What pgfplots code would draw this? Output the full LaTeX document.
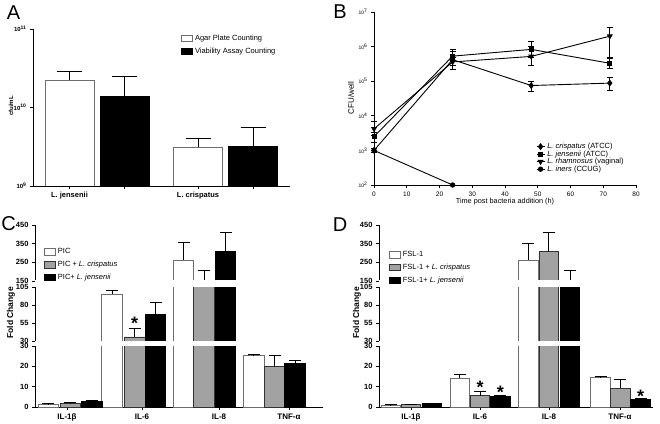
\documentclass[border=0pt]{standalone}
\usepackage{fontspec}
\setmainfont{Liberation Sans}
\usepackage{pgfplots}
\usepackage{pgfplotstable}
\pgfplotsset{compat=1.18}

\definecolor{barg}{RGB}{162,162,162}
\definecolor{edgew}{RGB}{110,110,110}
\definecolor{edgeg}{RGB}{50,50,50}

% bars start at ymin when 0 is out of range: mask their base edge at the break
\newcommand{\hidebase}{\fill[white] ([xshift=0.45pt,yshift=-1pt]rel axis cs:0,0) rectangle ([yshift=0.5pt]rel axis cs:1,0);}

\pgfplotsset{
  base/.style={scale only axis, anchor=south west, tick align=outside,
    axis line style={line width=0.8pt}, every tick/.style={black, line width=0.8pt},
    major tick length=3pt, /pgf/number format/assume math mode=true},
  wbar/.style={ybar, bar shift=0pt, fill=white, draw=edgew, line width=0.8pt},
  gbar/.style={ybar, bar shift=0pt, fill=barg, draw=edgeg, line width=0.8pt},
  kbar/.style={ybar, bar shift=0pt, fill=black, draw=black, line width=0.8pt},
  boxleg/.style={legend image code/.code={\draw[##1] (0pt,-3pt) rectangle (11pt,3.5pt);}},
  errs/.style={forget plot, draw=none, mark=none,
    error bars/y dir=plus, error bars/y explicit,
    error bars/error bar style={draw=black, line width=0.8pt},
    error bars/error mark options={rotate=90, draw=black, mark size=#1, line width=0.8pt}},
  cdC/.style={base, width=288pt, xmin=35, xmax=323,
    yticklabel style={font=\fontsize{7.5}{8}\selectfont\bfseries},
    xticklabel style={font=\fontsize{8}{9}\selectfont\bfseries}},
  cdD/.style={base, width=274pt, xmin=379, xmax=653,
    yticklabel style={font=\fontsize{7.5}{8}\selectfont\bfseries},
    xticklabel style={font=\fontsize{8}{9}\selectfont\bfseries}},
  seglo/.style={height=61pt, ymin=0, ymax=30, ytick={0,10,20,30}, axis lines*=left},
  segmid/.style={height=54pt, ymin=30, ymax=105, ytick={30,55,80,105},
    axis x line=none, axis y line*=left, xtick=\empty},
  seghi/.style={height=56pt, ymin=150, ymax=450, ytick={150,250,350,450},
    axis x line=none, axis y line*=left, xtick=\empty},
  cdleg/.style={legend style={at={(#1)}, anchor=north west, draw=none, fill=none,
    font=\fontsize{7.5}{8}\selectfont, row sep=2pt, inner sep=0pt}, legend cell align=left},
}

% panel C: bar centre (px) and fold change
\pgfplotstableread{
x y
48.3 1.5
112 95
183.5 262
253.8 25.4
}\Cw
\pgfplotstableread{
x y
70.3 1.9
134.7 35.6
204 155
274.8 19.8
}\Cg
\pgfplotstableread{
x y
91.7 2.6
155.5 67
225.5 307
295 21.6
}\Ck
% panel D
\pgfplotstableread{
x y
390.8 0.9
459.7 14.2
528.3 262
600.5 14.5
}\Dw
\pgfplotstableread{
x y
410.8 1.2
480 5.6
548.7 307
620.2 9.1
}\Dg
\pgfplotstableread{
x y
431.7 1.8
500.3 5.1
570 130
640.5 3.8
}\Dk

\begin{document}
\begin{tikzpicture}
\path[use as bounding box] (0pt,0pt) rectangle (660pt,423pt);

% ---------- A ----------
\begin{axis}[base, width=257pt, height=157pt, at={(33pt,237pt)},
  xmin=33, xmax=290, ymode=log, ymin=1e9, ymax=1e11, axis lines*=left,
  yminorticks=false,
  xtick={69.5,124.5,198,253}, xticklabels={L. jensenii,,L. crispatus,},
  ytick={1e9,1e10,1e11},
  yticklabels={10\textsuperscript{9},10\textsuperscript{10},10\textsuperscript{11}},
  xticklabel style={font=\fontsize{7.5}{8}\selectfont\bfseries},
  yticklabel style={font=\fontsize{6}{7}\selectfont\bfseries},
  legend style={at={(0.576,0.975)}, anchor=north west, draw=none, fill=none,
    font=\fontsize{7.5}{8}\selectfont, row sep=2pt, inner sep=0pt},
  legend cell align=left]
\addplot[wbar, bar width=49, boxleg,
  error bars/y dir=plus, error bars/y explicit,
  error bars/error bar style={draw=black, line width=0.8pt},
  error bars/error mark options={rotate=90, draw=black, mark size=12.5pt, line width=0.8pt}]
  coordinates {(69.5,2.24e10) +- (0,0.66e10) (198,3.1e9) +- (0,0.9e9)};
\addlegendentry{Agar Plate Counting}
\addplot[kbar, bar width=49, boxleg,
  error bars/y dir=plus, error bars/y explicit,
  error bars/error bar style={draw=black, line width=0.8pt},
  error bars/error mark options={rotate=90, draw=black, mark size=12.5pt, line width=0.8pt}]
  coordinates {(124.5,1.37e10) +- (0,1.1e10) (253,3.23e9) +- (0,2.27e9)};
\addlegendentry{Viability Assay Counting}
\end{axis}
\node[rotate=90, font=\fontsize{6}{7}\selectfont\bfseries] at (11pt,317pt) {cfu/mL};
\node[font=\fontsize{20}{20}\selectfont] at (13.5pt,410.5pt) {A};

% ---------- B ----------
\begin{axis}[base, width=262pt, height=173pt, at={(374pt,238pt)},
  xmin=0, xmax=80, ymode=log, ymin=1e2, ymax=1e7, axis lines*=left,
  yminorticks=false, clip=false,
  xtick={0,10,...,80},
  ytick={1e2,1e3,1e4,1e5,1e6,1e7},
  yticklabels={10\textsuperscript{2},10\textsuperscript{3},10\textsuperscript{4},10\textsuperscript{5},10\textsuperscript{6},10\textsuperscript{7}},
  xticklabel style={font=\fontsize{6.5}{7}\selectfont},
  yticklabel style={font=\fontsize{5}{6}\selectfont},
  legend style={at={(0.618,0.245)}, anchor=north west, draw=none, fill=none,
    font=\fontsize{7.5}{8}\selectfont, row sep=0pt, inner sep=0pt,
    nodes={inner sep=0.3pt}, /tikz/every odd column/.append style={column sep=2pt}},
  legend cell align=left,
  legend image code/.code={\draw[mark repeat=2,mark phase=2,#1] plot coordinates {(0pt,0pt) (4pt,0pt) (8pt,0pt)};},
  every axis plot/.append style={black, line width=0.9pt,
    error bars/y dir=both, error bars/y explicit,
    error bars/error bar style={line width=0.7pt},
    error bars/error mark options={rotate=90, mark size=3pt, line width=0.7pt}}]
\addplot[mark=diamond*, mark size=2.8pt] coordinates {
  (0,1000) +- (0,150)
  (24,4.2e5) += (0,3e5) -= (0,2e5)
  (48,7.5e4) += (0,2.5e4) -= (0,2.5e4)
  (72,8.8e4) += (0,3.7e4) -= (0,3.3e4)};
\addlegendentry{\textit{L. crispatus} (ATCC)}
\addplot[mark=square*, mark size=2pt] coordinates {
  (0,2500) += (0,900) -= (0,800)
  (24,5.3e5) += (0,2.8e5) -= (0,2.5e5)
  (48,8.3e5) += (0,5.7e5) -= (0,3.3e5)
  (72,3.3e5) += (0,1.2e5) -= (0,0.9e5)};
\addlegendentry{\textit{L. jensenii} (ATCC)}
\addplot[mark=triangle*, mark size=2.6pt, mark options={rotate=180}] coordinates {
  (0,4200) += (0,2900) -= (0,1500)
  (24,3.6e5) += (0,1.3e5) -= (0,1.4e5)
  (48,5.2e5) += (0,4.8e5) -= (0,2.4e5)
  (72,2e6) += (0,1.6e6) -= (0,1.5e6)};
\addlegendentry{\textit{L. rhamnosus} (vaginal)}
\addplot[mark=*, mark size=2.2pt] coordinates {
  (0,1000) +- (0,0)
  (24,100) +- (0,0)};
\addlegendentry{\textit{L. iners} (CCUG)}
\end{axis}
\node[rotate=90, font=\fontsize{8}{9}\selectfont] at (351pt,325pt) {CFU/well};
\node[font=\fontsize{7.3}{8}\selectfont] at (505pt,221.5pt) {Time post bacteria addition (h)};
\node[font=\fontsize{20}{20}\selectfont] at (340pt,411pt) {B};

% ---------- C ----------
\begin{axis}[cdC, seglo, at={(35pt,16pt)},
  xtick={67,142,219,289}, xticklabels={IL-1β,IL-6,IL-8,TNF-α}]
\addplot[wbar, bar width=20.5] table[x=x,y=y] {\Cw};
\addplot[gbar, bar width=20.5] table[x=x,y=y] {\Cg};
\addplot[kbar, bar width=20.5] table[x=x,y=y] {\Ck};
\addplot[errs=6pt] coordinates {(48.3,1.5) +- (0,0.2) (70.3,1.9) +- (0,0.2) (91.7,2.6) +- (0,0.5)
  (253.8,25.4) +- (0,0.3) (274.8,19.8) +- (0,5.4) (295,21.6) +- (0,1.4)};
\end{axis}
\begin{axis}[cdC, segmid, at={(35pt,82pt)}]
\addplot[wbar, bar width=20.5] table[x=x,y=y] {\Cw};
\addplot[gbar, bar width=20.5] table[x=x,y=y] {\Cg};
\addplot[kbar, bar width=20.5] table[x=x,y=y] {\Ck};
\addplot[errs=6pt] coordinates {(112,95) +- (0,5) (134.7,35.6) +- (0,11.7) (155.5,67) +- (0,16.4)};
\hidebase
\node[font=\fontsize{18}{18}\selectfont\bfseries] at (axis cs:134.7,54) {*};
\end{axis}
\begin{axis}[cdC, seghi, at={(35pt,142pt)}, cdleg={0.031,0.615}]
\addplot[wbar, bar width=20.5, boxleg] table[x=x,y=y] {\Cw};
\addlegendentry{PIC}
\addplot[gbar, bar width=20.5, boxleg] table[x=x,y=y] {\Cg};
\addlegendentry{PIC + \textit{L. crispatus}}
\addplot[kbar, bar width=20.5, boxleg] table[x=x,y=y] {\Ck};
\addlegendentry{PIC+ \textit{L. jensenii}}
\addplot[errs=6pt] coordinates {(183.5,262) +- (0,93) (204,155) +- (0,54) (225.5,307) +- (0,102)};
\hidebase
\end{axis}
\node[rotate=90, font=\fontsize{8.5}{9}\selectfont\bfseries] at (11pt,110pt) {Fold Change};
\node[font=\fontsize{20}{20}\selectfont] at (8.5pt,199pt) {C};

% ---------- D ----------
\begin{axis}[cdD, seglo, at={(379pt,16pt)},
  xtick={411,480,549,620}, xticklabels={IL-1β,IL-6,IL-8,TNF-α}]
\addplot[wbar, bar width=19.5] table[x=x,y=y] {\Dw};
\addplot[gbar, bar width=19.5] table[x=x,y=y] {\Dg};
\addplot[kbar, bar width=19.5] table[x=x,y=y] {\Dk};
\addplot[errs=6pt] coordinates {(390.8,0.9) +- (0,0.2) (410.8,1.2) +- (0,0.2) (431.7,1.8) +- (0,0.2)
  (459.7,14.2) +- (0,1.6) (480,5.6) +- (0,2.1) (500.3,5.1) +- (0,0.8)
  (600.5,14.5) +- (0,0.7) (620.2,9.1) +- (0,4.7) (640.5,3.8) +- (0,0.2)};
\node[font=\fontsize{18}{18}\selectfont\bfseries] at (axis cs:480,9.5) {*};
\node[font=\fontsize{18}{18}\selectfont\bfseries] at (axis cs:500.3,7) {*};
\node[font=\fontsize{18}{18}\selectfont\bfseries] at (axis cs:640.5,5.5) {*};
\end{axis}
\begin{axis}[cdD, segmid, at={(379pt,82pt)}]
\addplot[wbar, bar width=19.5] table[x=x,y=y] {\Dw};
\addplot[gbar, bar width=19.5] table[x=x,y=y] {\Dg};
\addplot[kbar, bar width=19.5] table[x=x,y=y] {\Dk};
\hidebase
\end{axis}
\begin{axis}[cdD, seghi, at={(379pt,142pt)}, cdleg={0.036,0.565}]
\addplot[wbar, bar width=19.5, boxleg] table[x=x,y=y] {\Dw};
\addlegendentry{FSL-1}
\addplot[gbar, bar width=19.5, boxleg] table[x=x,y=y] {\Dg};
\addlegendentry{FSL-1 + \textit{L. crispatus}}
\addplot[kbar, bar width=19.5, boxleg] table[x=x,y=y] {\Dk};
\addlegendentry{FSL-1+ \textit{L. jensenii}}
\addplot[errs=6pt] coordinates {(528.3,262) +- (0,91) (548.7,307) +- (0,104) (570,150) +- (0,57)};
\hidebase
\end{axis}
\node[rotate=90, font=\fontsize{8.5}{9}\selectfont\bfseries] at (357pt,110pt) {Fold Change};
\node[font=\fontsize{20}{20}\selectfont] at (340pt,198pt) {D};
\end{tikzpicture}
\end{document}
